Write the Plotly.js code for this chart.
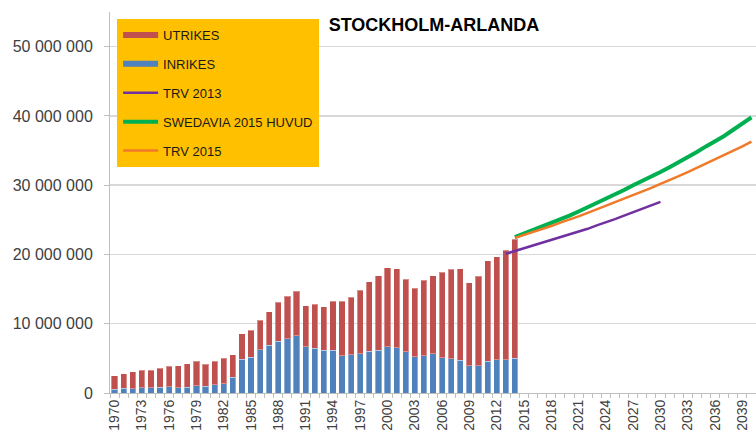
<!DOCTYPE html>
<html>
<head>
<meta charset="utf-8">
<script src="https://cdn.plot.ly/plotly-3.0.1.min.js"></script>
<style>html,body{margin:0;padding:0;background:#fff;}#chart{width:756px;height:441px;}</style>
</head>
<body>
<div id="chart"></div>
<script>
// Historical years (bars)
const years = [1970,1971,1972,1973,1974,1975,1976,1977,1978,1979,1980,1981,1982,1983,1984,1985,1986,1987,1988,1989,1990,1991,1992,1993,1994,1995,1996,1997,1998,1999,2000,2001,2002,2003,2004,2005,2006,2007,2008,2009,2010,2011,2012,2013,2014];
// Domestic passengers (millions)
const inrikes = [0.53,0.67,0.62,0.77,0.77,0.82,0.87,0.77,0.82,1.06,0.96,1.20,1.35,2.26,4.86,5.15,6.25,6.88,7.46,7.84,8.27,6.68,6.45,6.16,6.20,5.38,5.53,5.67,6.06,6.20,6.68,6.54,5.96,5.24,5.38,5.67,5.09,4.91,4.76,3.94,3.94,4.62,4.81,4.81,5.00];
// International passengers (millions)
const utrikes = [1.97,2.12,2.45,2.55,2.50,2.74,2.98,3.17,3.41,3.51,3.18,3.37,3.65,3.27,3.70,3.89,4.24,4.85,5.62,6.16,6.45,5.92,6.35,6.29,7.03,7.85,8.28,9.19,10.00,10.75,11.42,11.40,10.44,9.86,10.88,11.26,12.32,12.93,13.18,11.98,12.94,14.47,14.86,15.78,17.18];

// Forecasts (millions)
const trv2013Years = [2013,2014,2015,2016,2017,2018,2019,2020,2021,2022,2023,2024,2025,2026,2027,2028,2029,2030];
const trv2013 = [20.1,20.5,20.8,21.2,21.6,22.0,22.4,22.9,23.3,23.7,24.2,24.6,25.1,25.6,26.1,26.5,27.0,27.6];
const fcYears = [2014,2015,2016,2017,2018,2019,2020,2021,2022,2023,2024,2025,2026,2027,2028,2029,2030,2031,2032,2033,2034,2035,2036,2037,2038,2039,2040];
const swedavia2015 = [22.5,23.0,23.5,24.0,24.5,25.1,25.6,26.2,26.8,27.4,28.0,28.6,29.3,30.0,30.6,31.2,31.9,32.6,33.3,34.0,34.8,35.6,36.3,37.1,38.0,38.9,39.8];
const trv2015 = [22.4,22.8,23.2,23.7,24.1,24.6,25.0,25.5,26.0,26.5,27.0,27.5,28.0,28.5,29.0,29.6,30.2,30.7,31.3,31.9,32.5,33.1,33.7,34.3,35.0,35.6,36.3];

const M = 1e6;
const toAbs = a => a.map(v => v * M);

const data = [
  {type:'bar', x: years, y: toAbs(inrikes), name:'INRIKES', marker:{color:'#4F81BD', line:{color:'rgba(255,255,255,0.35)', width:1}}, width:0.68, showlegend:false, hoverinfo:'x+y'},
  {type:'bar', x: years, y: toAbs(utrikes), name:'UTRIKES', marker:{color:'#C0504D', line:{color:'rgba(255,255,255,0.35)', width:1}}, width:0.68, showlegend:false, hoverinfo:'x+y'},
  {type:'scatter', mode:'lines', x: trv2013Years, y: toAbs(trv2013), name:'TRV 2013', line:{color:'#7030A0', width:2.5}, showlegend:false},
  {type:'scatter', mode:'lines', x: fcYears, y: toAbs(swedavia2015), name:'SWEDAVIA 2015 HUVUD', line:{color:'#00B050', width:4}, showlegend:false},
  {type:'scatter', mode:'lines', x: fcYears, y: toAbs(trv2015), name:'TRV 2015', line:{color:'#F07A28', width:2.5}, showlegend:false},
  // legend entries
  {type:'scatter', mode:'lines', x:[null], y:[null], name:'UTRIKES', line:{color:'#C0504D', width:6}, legendgroup:'a'},
  {type:'scatter', mode:'lines', x:[null], y:[null], name:'INRIKES', line:{color:'#4F81BD', width:6}, legendgroup:'b'},
  {type:'scatter', mode:'lines', x:[null], y:[null], name:'TRV 2013', line:{color:'#7030A0', width:2.5}, legendgroup:'c'},
  {type:'scatter', mode:'lines', x:[null], y:[null], name:'SWEDAVIA 2015 HUVUD', line:{color:'#00B050', width:4}, legendgroup:'d'},
  {type:'scatter', mode:'lines', x:[null], y:[null], name:'TRV 2015', line:{color:'#F07A28', width:2.5}, legendgroup:'e'}
];

const layout = {
  width:756, height:441,
  margin:{l:110, r:0, t:12, b:48},
  paper_bgcolor:'#ffffff', plot_bgcolor:'#ffffff',
  barmode:'stack',
  separators:', ',
  font:{family:'Liberation Sans, Arial, sans-serif', color:'#404040'},
  title:{text:'<b>STOCKHOLM-ARLANDA</b>', font:{size:18, color:'#000000', family:'Liberation Sans, Arial, sans-serif'}, x:0.5015, xanchor:'center', xref:'paper', y:0.943, yref:'container', yanchor:'middle'},
  xaxis:{
    range:[1969.5, 2040.5], tickmode:'linear', tick0:1970, dtick:3,
    tickangle:-90, tickfont:{size:14, color:'#404040'},
    showgrid:false, zeroline:false, showline:true, linecolor:'#bfbfbf', linewidth:1,
    ticks:'',
    minor:{tick0:1969.5, dtick:1, ticks:'outside', ticklen:4, tickcolor:'#bfbfbf', showgrid:false}
  },
  yaxis:{
    range:[0, 55e6], tickmode:'linear', tick0:0, dtick:10e6, tickformat:',d',
    tickfont:{size:16, color:'#404040'},
    showgrid:true, gridcolor:'#d9d9d9', gridwidth:1.5,
    zeroline:false, showline:true, linecolor:'#bfbfbf', linewidth:1,
    ticks:'outside', ticklen:5, tickcolor:'#bfbfbf', ticklabelstandoff:8
  },
  showlegend:true,
  legend:{
    x:0.011, xanchor:'left', y:0.9816, yanchor:'top',
    bgcolor:'#FFC000', bordercolor:'#FFC000', borderwidth:1,
    font:{size:13, color:'#1a1a1a', family:'Liberation Sans, Arial, sans-serif'},
    traceorder:'grouped', tracegroupgap:9, itemwidth:35
  }
};

Plotly.newPlot('chart', data, layout, {displayModeBar:false, staticPlot:true});
</script>
</body>
</html>
